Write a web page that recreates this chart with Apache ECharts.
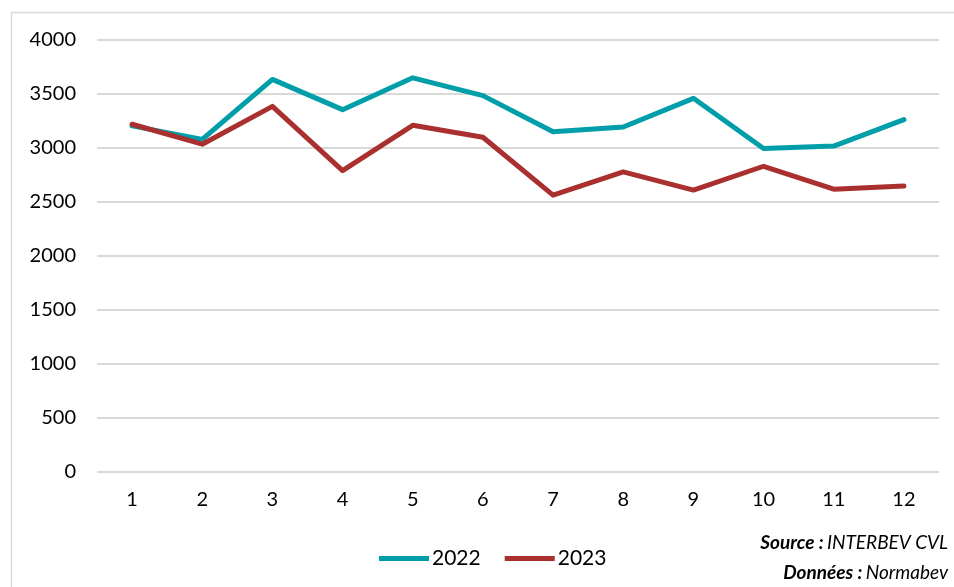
<!DOCTYPE html>
<html>
<head>
<meta charset="utf-8">
<script src="https://cdn.jsdelivr.net/npm/echarts@6/dist/echarts.min.js"></script>
<style>
html,body{margin:0;padding:0;background:#fff;}
#c{width:954px;height:587px;}
</style>
</head>
<body>
<div id="c"></div>
<script>
var months = ['1','2','3','4','5','6','7','8','9','10','11','12'];
var values2022 = [3205, 3080, 3635, 3355, 3650, 3485, 3150, 3195, 3460, 2995, 3018, 3262];
var values2023 = [3220, 3035, 3385, 2790, 3210, 3100, 2564, 2779, 2610, 2831, 2619, 2649];
var yTicks = [0, 500, 1000, 1500, 2000, 2500, 3000, 3500, 4000];

var FONT = 'Lato';
var chart = echarts.init(document.getElementById('c'), null, {renderer: 'canvas'});
chart.setOption({
  backgroundColor: '#fff',
  animation: false,
  grid: {left: 97, right: 15, top: 40, bottom: 115, containLabel: false},
  xAxis: {
    type: 'category',
    data: months,
    boundaryGap: true,
    axisLine: {show: false},
    axisTick: {show: false},
    axisLabel: {color: '#000', fontFamily: FONT, fontSize: 20, margin: 18}
  },
  yAxis: {
    type: 'value',
    min: yTicks[0],
    max: yTicks[yTicks.length - 1],
    interval: 500,
    axisLine: {show: false},
    axisTick: {show: false},
    axisLabel: {color: '#000', fontFamily: FONT, fontSize: 20, margin: 21,
                formatter: function (v) { return String(v); }},
    splitLine: {lineStyle: {color: '#d9d9d9', width: 2}}
  },
  legend: {
    data: ['2022', '2023'],
    left: 374,
    top: 543,
    itemWidth: 50,
    itemHeight: 14,
    itemGap: 24,
    icon: 'path://M0,4.5 L50,4.5 L50,9.5 L0,9.5 Z',
    textStyle: {color: '#000', fontFamily: FONT, fontSize: 21, padding: [0, 0, 0, -2]}
  },
  series: [
    {name: '2022', type: 'line', data: values2022, symbol: 'none', color: '#009EA9',
     lineStyle: {width: 5, color: '#009EA9', cap: 'round', join: 'round'}},
    {name: '2023', type: 'line', data: values2023, symbol: 'none', color: '#A9302E',
     lineStyle: {width: 5, color: '#A9302E', cap: 'round', join: 'round'}}
  ],
  graphic: [
    {type: 'rect', left: 9, top: 10, shape: {width: 1000, height: 700},
     style: {fill: 'none', stroke: '#d9d9d9', lineWidth: 1.5}, silent: true},
    {type: 'text', right: 6, top: 533,
     style: {
       text: '{b|Source :} {i|INTERBEV CVL}',
       rich: {
         b: {fontFamily: FONT, fontSize: 19, fontWeight: 'bold', fontStyle: 'italic', fill: '#000'},
         i: {fontFamily: FONT, fontSize: 19, fontStyle: 'italic', fill: '#000'}
       }
     }},
    {type: 'text', right: 6, top: 563,
     style: {
       text: '{b|Données :} {i|Normabev}',
       rich: {
         b: {fontFamily: FONT, fontSize: 19, fontWeight: 'bold', fontStyle: 'italic', fill: '#000'},
         i: {fontFamily: FONT, fontSize: 19, fontStyle: 'italic', fill: '#000'}
       }
     }}
  ]
});
</script>
</body>
</html>
